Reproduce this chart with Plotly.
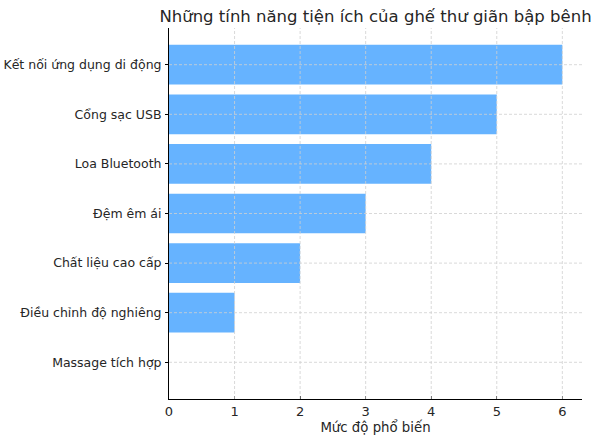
import plotly.graph_objects as go

# data (top to bottom)
features = [
    "Kết nối ứng dụng di động",
    "Cổng sạc USB",
    "Loa Bluetooth",
    "Đệm êm ái",
    "Chất liệu cao cấp",
    "Điều chỉnh độ nghiêng",
    "Massage tích hợp",
]
popularity = [6, 5, 4, 3, 2, 1, 0]
x_ticks = [0, 1, 2, 3, 4, 5, 6]

font_family = "DejaVu Sans"
text_color = "#262626"
grid_style = dict(color="#cfcfcf", width=0.8, dash="3px,2px")

fig = go.Figure()

fig.add_trace(
    go.Bar(
        x=popularity,
        y=features,
        orientation="h",
        width=0.8,
        marker=dict(color="#66b3ff", line=dict(width=0)),
        hoverinfo="x+y",
    )
)

# grid drawn above the bars (like the reference)
for t in x_ticks[1:]:
    fig.add_shape(type="line", xref="x", yref="paper", x0=t, x1=t, y0=0, y1=1,
                  line=grid_style, layer="above")
for f in features:
    fig.add_shape(type="line", xref="paper", yref="y", x0=0, x1=1, y0=f, y1=f,
                  line=grid_style, layer="above")

# X axis
fig.update_xaxes(
    range=[0, 6.3],
    tickvals=x_ticks,
    showgrid=False,
    showline=True,
    linecolor="black",
    linewidth=1,
    ticks="inside",
    ticklen=3,
    tickcolor="black",
    zeroline=False,
    automargin=False,
    tickfont=dict(size=13, color=text_color),
    title=dict(text="Mức độ phổ biến", font=dict(size=13.3, color=text_color), standoff=4),
)

# Y axis
fig.update_yaxes(
    range=[len(features) - 1 + 0.74, -0.74],
    showgrid=False,
    showline=True,
    linecolor="black",
    linewidth=1,
    ticks="outside",
    ticklen=3,
    tickcolor="black",
    ticklabelstandoff=1,
    automargin=False,
    tickfont=dict(size=12.5, color=text_color),
)

# layout
fig.update_layout(
    width=600,
    height=440,
    margin=dict(l=169, r=18, t=28, b=41, autoexpand=False),
    plot_bgcolor="white",
    paper_bgcolor="white",
    font=dict(family=font_family, color=text_color),
    title=dict(
        text="Những tính năng tiện ích của ghế thư giãn bập bênh",
        font=dict(size=16.5, color=text_color),
        x=375.5 / 600,
        xanchor="center",
        y=0.962,
        yanchor="middle",
    ),
    showlegend=False,
    bargap=0.2,
)

# drop the default page margin so the figure sits at the window's corner
fig.write_html(
    "out.html",
    config=dict(displayModeBar=False),
    post_script="document.body.style.margin='0px';",
)
